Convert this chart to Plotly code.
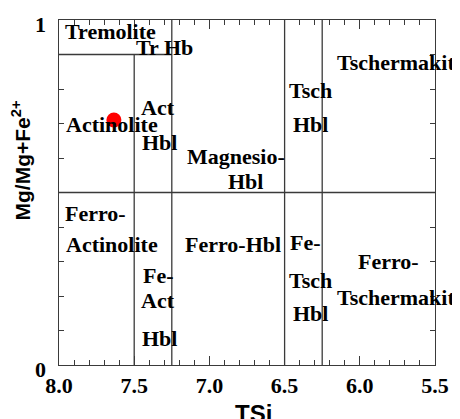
import plotly.graph_objects as go

# Sample point (TSi, Mg/(Mg+Fe2+))
sample_tsi = [7.635]
sample_mg = [0.71]

# Field boundary lines (TSi pairs, Mg# pairs)
boundary_x = [[8.0, 5.5], [8.0, 7.25], [7.5, 7.5], [7.25, 7.25], [6.5, 6.5], [6.25, 6.25]]
boundary_y = [[0.5, 0.5], [0.9, 0.9], [0.0, 0.9], [0.0, 1.0], [0.0, 1.0], [0.0, 1.0]]

# Field names and their anchor positions
field_text = ["Tremolite", "Tr Hb", "Act", "Actinolite", "Hbl", "Magnesio-", "Hbl",
              "Tsch", "Hbl", "Tschermakit",
              "Ferro-", "Actinolite", "Ferro-Hbl", "Fe-", "Act", "Hbl",
              "Fe-", "Tsch", "Hbl", "Ferro-", "Tschermakit"]
field_x = [7.66, 7.30, 7.34, 7.65, 7.33, 6.82, 6.76,
           6.33, 6.33, 5.76,
           7.76, 7.65, 6.84, 7.34, 7.34, 7.33,
           6.36, 6.33, 6.33, 5.81, 5.76]
field_y = [0.968, 0.919, 0.745, 0.696, 0.646, 0.603, 0.533,
           0.797, 0.696, 0.878,
           0.44, 0.35, 0.35, 0.258, 0.188, 0.078,
           0.354, 0.246, 0.15, 0.30, 0.197]

x_tickvals = [8.0, 7.5, 7.0, 6.5, 6.0, 5.5]
x_ticktext = ["8.0", "7.5", "7.0", "6.5", "6.0", "5.5"]
y_tickvals = [0, 1]
y_ticktext = ["0", "1"]

fig = go.Figure()
line_col = "#3a3a3a"
for bx, by in zip(boundary_x, boundary_y):
    fig.add_trace(go.Scatter(x=bx, y=by, mode="lines",
                             line=dict(color=line_col, width=1.3),
                             hoverinfo="skip", showlegend=False))

fig.add_trace(go.Scatter(x=sample_tsi, y=sample_mg, mode="markers",
                         marker=dict(color="#ff0000", size=15),
                         showlegend=False))
# dummy trace for mirrored axes
fig.add_trace(go.Scatter(x=[8.0], y=[0], xaxis="x2", yaxis="y2", mode="markers",
                         marker=dict(opacity=0), hoverinfo="skip", showlegend=False))

serif = "Liberation Serif"
for t, x, y in zip(field_text, field_x, field_y):
    fig.add_annotation(x=x, y=y, xref="x", yref="y", text=t, showarrow=False,
                       font=dict(family=serif, size=22, color="black", weight="bold"))

# y tick labels (placed as annotations so the top one is not hidden at the page edge)
for v, t in zip(y_tickvals, y_ticktext):
    fig.add_annotation(x=-0.048, y=v, xref="paper", yref="y", text=t, showarrow=False,
                       xanchor="center", yanchor="middle", yshift=-4,
                       font=dict(family=serif, size=22, color="black", weight="bold"))

fig.add_annotation(x=0.516, y=-0.095, xref="paper", yref="paper", text="TSi",
                   showarrow=False, xanchor="center", yanchor="top",
                   font=dict(family="Liberation Sans", size=24, color="black", weight="bold"))
fig.add_annotation(x=-0.1, y=0.594, xref="paper", yref="paper",
                   text="Mg/Mg+Fe<sup>2+</sup>", textangle=-90, showarrow=False,
                   xanchor="center", yanchor="middle",
                   font=dict(family="Liberation Sans", size=21, color="black", weight="bold"))

axis_common = dict(showgrid=False, zeroline=False, showline=True, linecolor=line_col,
                   linewidth=1.3, ticks="inside", tickcolor=line_col)
minor_t = dict(dtick=0.1, ticks="inside", ticklen=5, tickcolor=line_col, tickwidth=1.3)

fig.update_layout(
    width=452, height=411,
    margin=dict(l=51, r=25, t=12, b=54),
    plot_bgcolor="white", paper_bgcolor="white",
    showlegend=False,
    xaxis=dict(range=[8.0, 5.5], tickvals=x_tickvals, ticktext=x_ticktext,
               ticklen=9, tickwidth=1.3, minor=minor_t,
               tickfont=dict(family=serif, size=22, color="black", weight="bold"),
               **axis_common),
    yaxis=dict(range=[0, 1], tickvals=y_tickvals, showticklabels=False,
               ticklen=5, tickwidth=1.3, minor=minor_t,
               **axis_common),
    xaxis2=dict(range=[8.0, 5.5], overlaying="x", side="top", showticklabels=False,
                tickvals=x_tickvals, ticklen=9, tickwidth=1.3, minor=minor_t,
                **axis_common),
    yaxis2=dict(range=[0, 1], overlaying="y", side="right", showticklabels=False,
                tickvals=y_tickvals, ticklen=5, tickwidth=1.3, minor=minor_t,
                **axis_common),
)

fig.write_html("out.html")
